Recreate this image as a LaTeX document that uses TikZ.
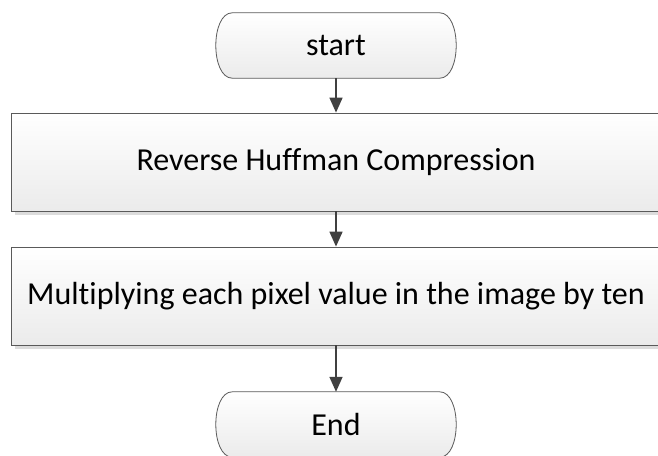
\documentclass[tikz,border=0pt]{standalone}
\usepackage{fontspec}
\setmainfont{Carlito}[Ligatures=NoCommon]
\usetikzlibrary{arrows.meta,shadows,calc,backgrounds}
\definecolor{edge}{HTML}{5A5A5A}
\definecolor{arrowc}{HTML}{404040}
\definecolor{shadebot}{HTML}{EBEBEB}
\definecolor{shadowc}{HTML}{DCDCDC}

\begin{document}
\begin{tikzpicture}[x=1pt,y=-1pt,
  label font/.style={font=\fontsize{32}{38}\selectfont, text=black},
  procbox/.style={draw=edge, line width=0.8pt, top color=white, bottom color=shadebot,
    minimum width=650pt, minimum height=98pt, inner sep=0pt, label font,
    drop shadow={shadow xshift=4pt, shadow yshift=-4pt, fill=shadowc, opacity=1}},
  term/.style={minimum width=241pt, minimum height=65pt, inner sep=0pt, label font},
  termshape/.style={draw=edge, line width=0.8pt, top color=white, bottom color=shadebot},
  flow/.style={draw=arrowc, line width=1.6pt, -{Triangle[length=15pt,width=13pt]}}]
\useasboundingbox (0,0) rectangle (658,455);

% flowchart nodes
\node[term] (start) at (336,45.5) {start};
\node[procbox] (rhc) at (336,162) {Reverse Huffman Compression};
\node[procbox] (mul) at (336,296) {Multiplying each pixel value in the image by ten};
\node[term] (end) at (336,424.5) {End};

% terminal outlines: straight top and bottom, shallow arcs at the ends
\begin{scope}[on background layer]
  \foreach \t in {start,end}{
    \path[termshape]
      ($(\t.north west)+(17,0)$) -- ($(\t.north east)+(-17,0)$)
      .. controls ($(\t.north east)+(5,0)$) and ($(\t.south east)+(5,0)$) .. ($(\t.south east)+(-17,0)$)
      -- ($(\t.south west)+(17,0)$)
      .. controls ($(\t.south west)+(-5,0)$) and ($(\t.north west)+(-5,0)$) .. cycle;
  }
\end{scope}

% connectors
\draw[flow] (start.south) -- (rhc.north);
\draw[flow] (rhc.south) -- (mul.north);
\draw[flow] (mul.south) -- (end.north);
\end{tikzpicture}
\end{document}
